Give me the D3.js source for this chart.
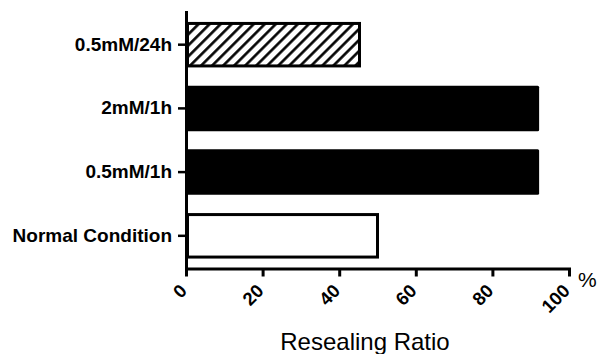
<!DOCTYPE html>
<html>
<head>
<meta charset="utf-8">
<script src="https://cdn.jsdelivr.net/npm/d3@7"></script>
<style>
  body { margin: 0; background: #fff; }
  text { font-family: Arial, "Liberation Sans", sans-serif; }
</style>
</head>
<body>
<script>
// chart data
var categories = ["0.5mM/24h", "2mM/1h", "0.5mM/1h", "Normal Condition"];
var values = [45.3, 92.2, 92.2, 50];
var fills = ["hatch", "black", "black", "white"];
var xTicks = [0, 20, 40, 60, 80, 100];

var W = 601, H = 354;
var x0 = 186, x1 = 569, yTop = 12, yBot = 268.5;

var svg = d3.select("body").append("svg")
    .attr("width", W)
    .attr("height", H);

// hatch pattern for the 24h bar
var defs = svg.append("defs");
var pat = defs.append("pattern")
    .attr("id", "hatch")
    .attr("patternUnits", "userSpaceOnUse")
    .attr("width", 7.8)
    .attr("height", 7.8)
    .attr("patternTransform", "rotate(45)");
pat.append("rect").attr("width", 7.8).attr("height", 7.8).attr("fill", "#fff");
pat.append("line")
    .attr("x1", 1.4).attr("y1", 0).attr("x2", 1.4).attr("y2", 7.8)
    .attr("stroke", "#000").attr("stroke-width", 2.6);

// scales
var x = d3.scaleLinear().domain([0, 100]).range([x0, x1]);
var y = d3.scaleBand()
    .domain(categories)
    .range([yTop, yBot])
    .paddingInner(0.286)
    .paddingOuter(0.156);

var data = categories.map(function (c, i) {
    return { name: c, value: values[i], fill: fills[i] };
});

// bars
var sw = 3;
svg.selectAll(".bar")
    .data(data)
    .enter().append("rect")
    .attr("class", "bar")
    .attr("x", function (d) { return d.fill == "black" ? x(0) : x(0) + sw / 2; })
    .attr("y", function (d) { return d.fill == "black" ? y(d.name) : y(d.name) + sw / 2; })
    .attr("width", function (d) { return d.fill == "black" ? x(d.value) - x(0) : x(d.value) - x(0) - sw / 2; })
    .attr("height", function (d) { return d.fill == "black" ? y.bandwidth() : y.bandwidth() - sw; })
    .attr("rx", function (d) { return d.fill == "black" ? 1.5 : 0; })
    .attr("fill", function (d) { return d.fill == "hatch" ? "url(#hatch)" : d.fill; })
    .attr("stroke", function (d) { return d.fill == "black" ? "none" : "#000"; })
    .attr("stroke-width", sw);

// y axis
var gy = svg.append("g")
    .attr("transform", "translate(" + x0 + ",0)")
    .call(d3.axisLeft(y).tickSizeInner(8).tickSizeOuter(0).tickPadding(6));
gy.select(".domain").attr("stroke-width", 3).attr("stroke-linecap", "square");
gy.selectAll(".tick line").attr("stroke-width", 2.5);
gy.selectAll(".tick text")
    .attr("font-size", "19px")
    .attr("font-weight", "bold")
    .attr("fill", "#000")
    .attr("font-family", "Arial, 'Liberation Sans', sans-serif");

// x axis
var gx = svg.append("g")
    .attr("transform", "translate(0," + yBot + ")")
    .call(d3.axisBottom(x).tickValues(xTicks).tickSizeInner(8).tickSizeOuter(0));
gx.select(".domain").attr("stroke-width", 3).attr("stroke-linecap", "square");
gx.selectAll(".tick line").attr("stroke-width", 3);
gx.selectAll(".tick text")
    .attr("font-size", "18.5px")
    .attr("font-weight", "bold")
    .attr("fill", "#000")
    .attr("font-family", "Arial, 'Liberation Sans', sans-serif")
    .attr("text-anchor", "end")
    .attr("y", 0)
    .attr("dy", "0.35em")
    .attr("transform", "translate(-3,19) rotate(-45)");

// unit label
svg.append("text")
    .attr("x", 578)
    .attr("y", 287)
    .attr("font-size", "21px")
    .text("%");

// axis title
svg.append("text")
    .attr("x", 365)
    .attr("y", 350)
    .attr("text-anchor", "middle")
    .attr("font-size", "24px")
    .text("Resealing Ratio");
</script>
</body>
</html>
